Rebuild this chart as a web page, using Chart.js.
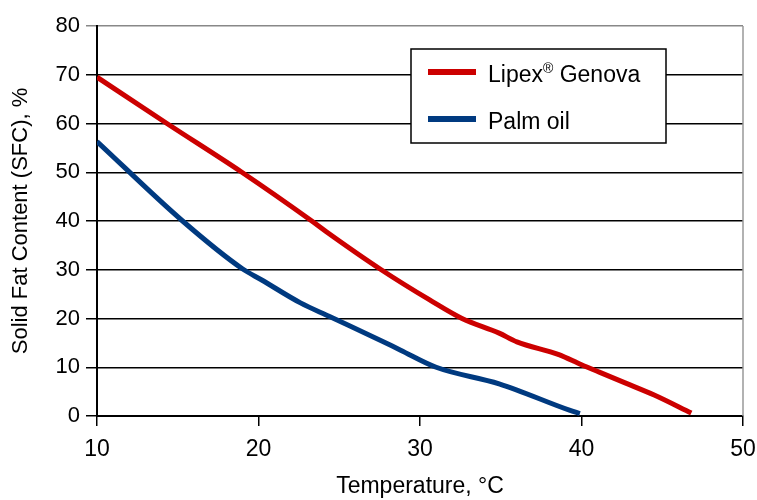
<!DOCTYPE html>
<html>
<head>
<meta charset="utf-8">
<script src="https://cdn.jsdelivr.net/npm/chart.js@4.4.1/dist/chart.umd.min.js"></script>
<style>
  html,body{margin:0;padding:0;background:#fff;}
  #wrap{width:757px;height:500px;}
</style>
</head>
<body>
<div id="wrap"><canvas id="sfc" width="757" height="500"></canvas></div>
<script>
// SFC curves
const lipexTemp = [10, 14.33, 18.97, 23.3, 24.2, 27.6, 30.6, 32.6, 34.9, 36, 38.6, 40, 41.1, 42.7, 44.5, 46.8];
const lipexSfc  = [69.5, 60, 50, 40, 37.8, 30, 23.8, 20, 17, 15.2, 12.6, 10.5, 9, 6.8, 4.3, 0.6];
const palmTemp  = [10, 15.3, 19, 20.2, 22.6, 24.4, 27.5, 28.8, 31, 34.9, 39.25, 39.9];
const palmSfc   = [56.3, 40, 30.2, 27.9, 23.2, 20.4, 15.6, 13.5, 10, 6.6, 1.2, 0.5];
const xTicks = [10, 20, 30, 40, 50];
const yTicks = [0, 10, 20, 30, 40, 50, 60, 70, 80];

const FONT = "'Liberation Sans', Arial, sans-serif";
const RED = "#cc0000";
const BLUE = "#003a80";

function pts(xs, ys){
  return xs.map((x,i)=>({x:x, y:ys[i]}));
}

// legend box inside the plot + gray right border
const boxLegend = {
  id:"boxLegend",
  afterDraw(chart){
    const ctx = chart.ctx;
    const a = chart.chartArea;
    ctx.save();
    ctx.strokeStyle = "#999";
    ctx.lineWidth = 1.5;
    ctx.beginPath();
    ctx.moveTo(a.right, a.top);
    ctx.lineTo(a.right, a.bottom);
    ctx.stroke();

    const bx = 411, by = 49, bw = 255, bh = 94;
    ctx.fillStyle = "#fff";
    ctx.fillRect(bx, by, bw, bh);
    ctx.strokeStyle = "#000";
    ctx.lineWidth = 1.5;
    ctx.strokeRect(bx, by, bw, bh);

    ctx.lineWidth = 6;
    ctx.strokeStyle = RED;
    ctx.beginPath(); ctx.moveTo(428, 72); ctx.lineTo(476, 72); ctx.stroke();
    ctx.strokeStyle = BLUE;
    ctx.beginPath(); ctx.moveTo(428, 119); ctx.lineTo(476, 119); ctx.stroke();

    ctx.fillStyle = "#000";
    ctx.textBaseline = "alphabetic";
    ctx.textAlign = "left";
    ctx.font = "23px " + FONT;
    const w = ctx.measureText("Lipex").width;
    ctx.fillText("Lipex", 488, 82);
    ctx.font = "14px " + FONT;
    ctx.fillText("®", 488 + w, 73);
    const w2 = ctx.measureText("®").width;
    ctx.font = "23px " + FONT;
    ctx.fillText(" Genova", 488 + w + w2, 82);
    ctx.fillText("Palm oil", 488, 129);
    ctx.restore();
  }
};

new Chart(document.getElementById("sfc"), {
  type: "line",
  data: {
    datasets: [
      {label:"Lipex® Genova", data:pts(lipexTemp, lipexSfc), borderColor:RED, borderWidth:5, pointRadius:0, cubicInterpolationMode:"monotone", fill:false},
      {label:"Palm oil", data:pts(palmTemp, palmSfc), borderColor:BLUE, borderWidth:5, pointRadius:0, cubicInterpolationMode:"monotone", fill:false}
    ]
  },
  options: {
    responsive:false,
    animation:false,
    layout:{padding:{left:0, right:14, top:26, bottom:0}},
    plugins:{legend:{display:false}, tooltip:{enabled:false}},
    scales:{
      x:{
        type:"linear", min:10, max:50,
        afterBuildTicks(s){ s.ticks = xTicks.map(v=>({value:v})); },
        afterFit(s){ s.height = 84; s.paddingRight = 0; s.paddingLeft = 0; },
        grid:{drawOnChartArea:false, drawTicks:true, tickLength:10, color:"#000", lineWidth:1.5},
        border:{color:"#000", width:2},
        ticks:{color:"#000", font:{family:FONT, size:23}, padding:10, maxRotation:0},
        title:{display:true, text:"Temperature, °C", color:"#000", font:{family:FONT, size:23}, padding:{top:0, bottom:0}}
      },
      y:{
        min:0, max:80,
        afterBuildTicks(s){ s.ticks = yTicks.map(v=>({value:v})); },
        afterFit(s){ s.width = 97; s.paddingTop = 0; s.paddingBottom = 0; },
        grid:{
          color:(c)=> c.tick && c.tick.value === 80 ? "#888" : "#000",
          lineWidth:1.5, tickLength:11
        },
        border:{color:"#000", width:2},
        ticks:{color:"#000", font:{family:FONT, size:22}, padding:6},
        title:{display:true, text:"Solid Fat Content (SFC), %", color:"#000", font:{family:FONT, size:22}, padding:{top:8, bottom:0}}
      }
    }
  },
  plugins:[boxLegend]
});
</script>
</body>
</html>
